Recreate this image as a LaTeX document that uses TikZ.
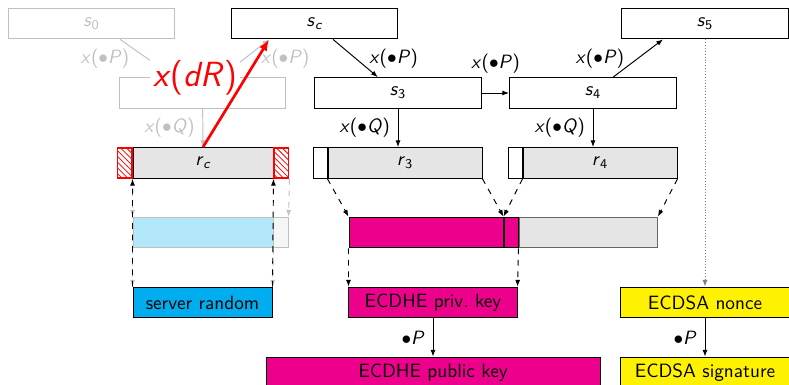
\documentclass[tikz,border=0pt]{standalone}
\usepackage{amsmath}
\usepackage{xcolor}
\usepackage{tikz}
\usetikzlibrary{arrows.meta,positioning,calc,patterns}
\definecolor{hscyan}{HTML}{00AEEF}
\definecolor{hspalecyan}{HTML}{B3E7FA}
\definecolor{hsmagenta}{HTML}{EC008C}
\definecolor{hsyellow}{HTML}{FFF200}
\definecolor{hsgray}{HTML}{E5E5E5}
\definecolor{hsdim}{HTML}{C0C0C0}
% sans italic variables, as on the slides
\newcommand\hsv[1]{\textit{#1}}
\newcommand\hsst[1]{\textit{s}$_{\text{#1}}$}
\newcommand\hsrn[1]{\textit{r}$_{\text{#1}}$}
\newcommand\hsmul[1]{\textit{x}($\bullet$\textit{#1})}
\tikzset{
  hsstate/.style={
    draw=black, fill=white, line width=0.5pt,
    minimum width=86.8pt, minimum height=16pt, inner sep=0pt
  },
  hsdimstate/.style={hsstate,draw=hsdim,text=hsdim},
  hsrand/.style={draw=black, fill=hsgray, line width=0.5pt, minimum height=16pt, inner sep=0pt},
  hspad/.style={draw=black, fill=white, line width=0.5pt, minimum width=7.3pt, minimum height=16pt, inner sep=0pt},
  hshatch/.style={
    draw=red, line width=1pt, pattern=north west lines, pattern color=red,
    minimum width=7.3pt, minimum height=15.5pt, inner sep=0pt
  },
  hskey/.style={draw=black, line width=0.5pt, minimum height=16pt, inner sep=0pt},
  hsedge/.style={->,>={Latex[length=3.5pt,width=2.6pt]},line width=0.5pt},
  hsdimedge/.style={hsedge,draw=hsdim,color=hsdim},
  hscopy/.style={hsedge,dashed},
  hsdimcopy/.style={hsdimedge,dashed},
  hslabel/.style={inner sep=1pt},
  hsdimlabel/.style={hslabel,text=hsdim},
  hsbig/.style={font=\LARGE,text=red,fill=white,inner sep=1.5pt,scale=1.05},
  hsred/.style={->,>={Latex[length=6pt,width=4.5pt]},draw=red,line width=1.4pt}
}

\begin{document}
\sffamily
\begin{tikzpicture}[x=0.52pt,y=-0.52pt]
  \useasboundingbox (0,0) rectangle (789,385);
  % states
  \node[hsdimstate] (s0) at (91.5,23.5) {\hsst{0}};
  \node[hsstate] (sc) at (314.5,23.5) {\hsst{\itshape c}};
  \node[hsstate] (s5) at (705,23.5) {\hsst{5}};
  \node[hsdimstate] (s1) at (202.5,93) {\hsst{1}};
  \node[hsstate] (s3) at (398,93) {\hsst{3}};
  \node[hsstate] (s4) at (593,93) {\hsst{4}};
  % randoms
  \node[hsrand,minimum width=72.8pt] (rc) at (203,163) {\hsrn{\itshape c}};
  \node[hshatch,anchor=east] (rcl) at (rc.west) {};
  \node[hshatch,anchor=west] (rcr) at (rc.east) {};
  \node[hsrand,minimum width=80.1pt] (r3) at (405,163) {\hsrn{3}};
  \node[hspad,anchor=east] (r3p) at (r3.west) {};
  \node[hsrand,minimum width=80.1pt] (r4) at (600,163) {\hsrn{4}};
  \node[hspad,anchor=east] (r4p) at (r4.west) {};
  % concatenated bytes
  \node[hskey,draw=hsdim,fill=hspalecyan,minimum width=72.8pt] (bl) at (203,232.5) {};
  \node[hskey,draw=hsdim,fill=black!4,minimum width=7.3pt,anchor=west] (blp) at (bl.east) {};
  \node[hskey,fill=hsmagenta,minimum width=80.1pt] (mg3) at (426,232.5) {};
  \node[hskey,fill=hsmagenta,minimum width=7.3pt,anchor=west] (mg4) at (mg3.east) {};
  \node[hskey,draw=black!60,fill=hsgray,minimum width=72pt,anchor=west] (gr4) at (mg4.east) {};
  % outputs
  \node[hskey,fill=hscyan,minimum width=72.3pt] (sr) at (202.5,302.5) {server random};
  \node[hskey,fill=hsmagenta,minimum width=87.4pt] (priv) at (433,302.5) {ECDHE priv.\ key};
  \node[hskey,fill=hsyellow,minimum width=87.4pt] (nonce) at (705,302.5) {ECDSA nonce};
  \node[hskey,fill=hsmagenta,minimum width=173.7pt] (pub) at (433,372.5) {ECDHE public key};
  \node[hskey,fill=hsyellow,minimum width=87.4pt] (sig) at (705,372.5) {ECDSA signature};
  % dimmed chain
  \coordinate (sctip) at ($(sc.south west)!.23!(sc.south east)$);
  \draw[hsdimedge] ($(s0.south west)!.67!(s0.south east)$) -- node[hsdimlabel,left=8pt] {\hsmul{P}} ($(s1.north west)!.33!(s1.north east)$);
  \draw[hsdimedge] ($(s1.north west)!.61!(s1.north east)$) -- node[hsdimlabel,right=7pt] {\hsmul{P}} (sctip);
  \draw[hsdimedge] (s1) -- node[hsdimlabel,left=3pt] {\hsmul{Q}} (rc.north);
  \node[hsbig] (dR) at (195,78) {\hsv{x}(\hsv{dR})};
  \draw[hsred] (rc.north) -- (sctip);
  % chain after the recovered state
  \draw[hsedge] ($(sc.south west)!.61!(sc.south east)$) -- node[hslabel,right=6pt] {\hsmul{P}} ($(s3.north west)!.38!(s3.north east)$);
  \draw[hsedge] (s3) -- node[hslabel,above=9pt] {\hsmul{P}} (s4);
  \draw[hsedge] ($(s4.north west)!.62!(s4.north east)$) -- node[hslabel,left=6pt] {\hsmul{P}} ($(s5.south west)!.25!(s5.south east)$);
  \draw[hsedge] (s3) -- node[hslabel,left=3pt] {\hsmul{Q}} (r3.north -| s3);
  \draw[hsedge] (s4) -- node[hslabel,left=3pt] {\hsmul{Q}} (r4.north -| s4);
  % server random
  \draw[hsdimcopy] (rc.south west) -- (bl.north west);
  \draw[hsdimcopy] (rcr.south east) -- (blp.north east);
  \draw[hsdimcopy] (bl.south west) -- (sr.north west);
  \draw[hsdimcopy] (bl.south east) -- (sr.north east);
  \draw[hscopy] (sr.north west) -- (rc.south west);
  \draw[hscopy] (sr.north east) -- (rc.south east);
  % ECDHE key
  \draw[hscopy] (r3.south west) -- (mg3.north west);
  \draw[hscopy] (r3.south east) -- (mg3.north east);
  \draw[hscopy] (r4.south west) -- (mg3.north east);
  \draw[hscopy] (r4.south east) -- (gr4.north east);
  \draw[hscopy] (mg3.south west) -- (priv.north west);
  \draw[hscopy] (mg4.south east) -- (priv.north east);
  \draw[hsedge] (priv) -- node[hslabel,left=3pt] {$\bullet$\hsv{P}} (pub);
  % ECDSA nonce
  \draw[hsedge,densely dotted,draw=black!50] (s5) -- (nonce);
  \draw[hsedge] (nonce) -- node[hslabel,left=3pt] {$\bullet$\hsv{P}} (sig);
\end{tikzpicture}
\end{document}
